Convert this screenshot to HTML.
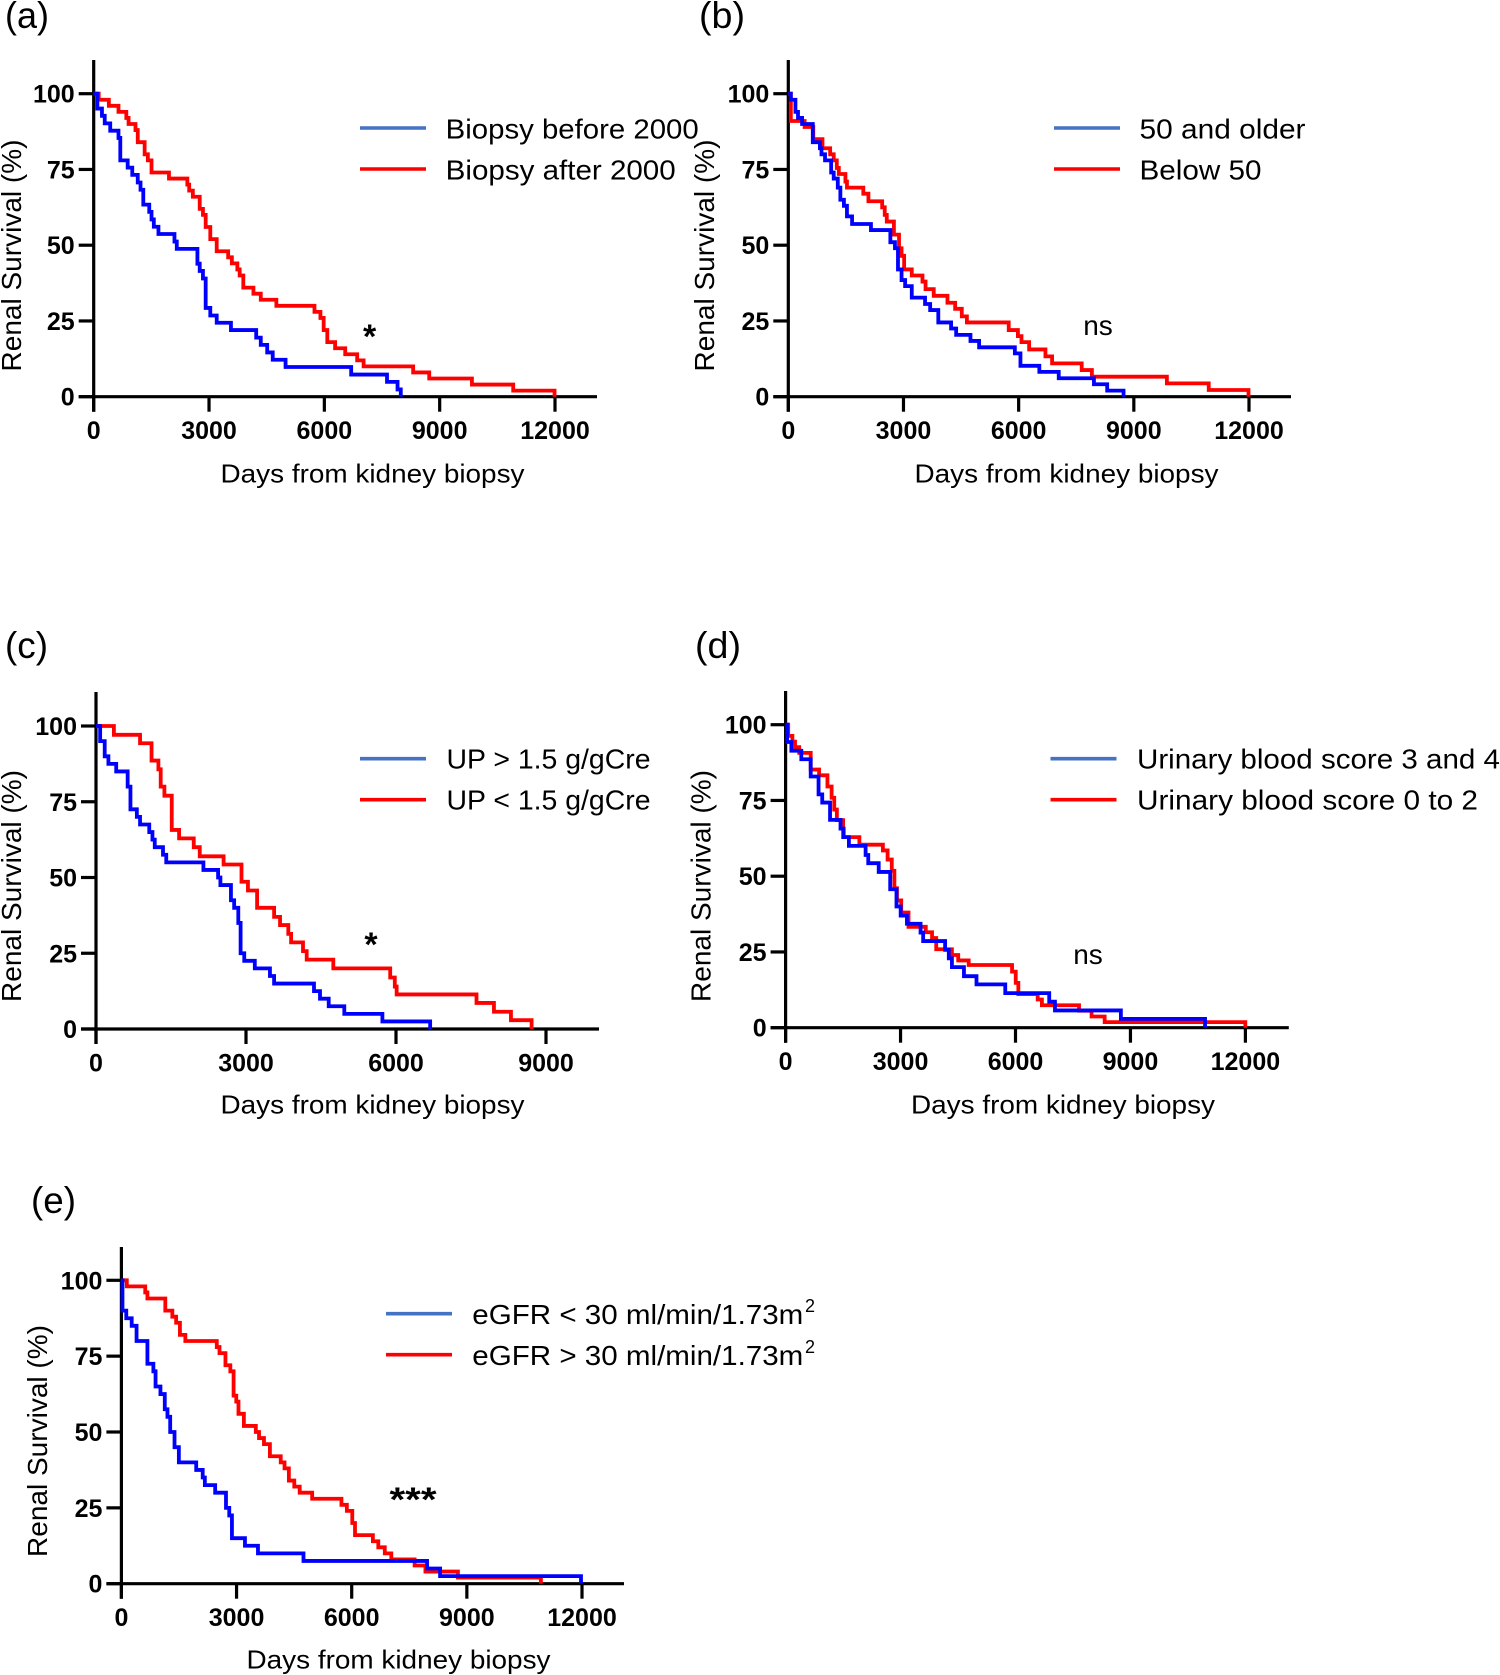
<!DOCTYPE html>
<html lang="en">
<head>
<meta charset="utf-8">
<title>Renal survival Kaplan-Meier curves</title>
<style>
html,body{margin:0;padding:0;background:#fff;}
svg{display:block;}
text{font-family:"Liberation Sans",sans-serif;fill:#000;}
.panel-label{font-size:37px;}
.legend-text{font-size:28px;}
.x-title{font-size:26px;text-anchor:middle;}
.y-title{font-size:28px;text-anchor:middle;}
.tick{font-size:25px;font-weight:bold;}
.note{font-size:28px;text-anchor:middle;}
.star{font-size:34px;font-weight:bold;text-anchor:middle;}
</style>
</head>
<body>
<svg xmlns="http://www.w3.org/2000/svg" width="1500" height="1675" viewBox="0 0 1500 1675">
<rect x="0" y="0" width="1500" height="1675" fill="#fff"/>

<g id="panel-a">
  <text class="panel-label" x="5" y="28" textLength="44" lengthAdjust="spacingAndGlyphs">(a)</text>
  <text class="y-title" transform="translate(21,255.5) rotate(-90)" textLength="232" lengthAdjust="spacingAndGlyphs">Renal Survival (%)</text>
  <text class="x-title" x="372.5" y="482.5" textLength="304" lengthAdjust="spacingAndGlyphs">Days from kidney biopsy</text>
  <line x1="360" y1="128" x2="426" y2="128" stroke="#4472C4" stroke-width="3.6"/>
  <line x1="360" y1="169" x2="426" y2="169" stroke="#ff0000" stroke-width="3.6"/>
  <text class="legend-text" x="445.7" y="138.5" textLength="253" lengthAdjust="spacingAndGlyphs">Biopsy before 2000</text>
  <text class="legend-text" x="445.7" y="179.5" textLength="230" lengthAdjust="spacingAndGlyphs">Biopsy after 2000</text>
  <text class="star" x="369.6" y="348">*</text>
</g>

<g id="panel-b">
  <text class="panel-label" x="699" y="28" textLength="46" lengthAdjust="spacingAndGlyphs">(b)</text>
  <text class="y-title" transform="translate(714,255.5) rotate(-90)" textLength="232" lengthAdjust="spacingAndGlyphs">Renal Survival (%)</text>
  <text class="x-title" x="1066.5" y="482.5" textLength="304" lengthAdjust="spacingAndGlyphs">Days from kidney biopsy</text>
  <line x1="1054" y1="128" x2="1120" y2="128" stroke="#4472C4" stroke-width="3.6"/>
  <line x1="1054" y1="169" x2="1120" y2="169" stroke="#ff0000" stroke-width="3.6"/>
  <text class="legend-text" x="1139.5" y="138.5" textLength="166" lengthAdjust="spacingAndGlyphs">50 and older</text>
  <text class="legend-text" x="1139.5" y="179.5" textLength="122" lengthAdjust="spacingAndGlyphs">Below 50</text>
  <text class="note" x="1098" y="335">ns</text>
</g>

<g id="panel-c">
  <text class="panel-label" x="5" y="658" textLength="43" lengthAdjust="spacingAndGlyphs">(c)</text>
  <text class="y-title" transform="translate(21,886) rotate(-90)" textLength="232" lengthAdjust="spacingAndGlyphs">Renal Survival (%)</text>
  <text class="x-title" x="372.5" y="1113.5" textLength="304" lengthAdjust="spacingAndGlyphs">Days from kidney biopsy</text>
  <line x1="360" y1="758.7" x2="426" y2="758.7" stroke="#4472C4" stroke-width="3.6"/>
  <line x1="360" y1="799.7" x2="426" y2="799.7" stroke="#ff0000" stroke-width="3.6"/>
  <text class="legend-text" x="446.5" y="768.5" textLength="204" lengthAdjust="spacingAndGlyphs">UP &gt; 1.5 g/gCre</text>
  <text class="legend-text" x="446.5" y="809.5" textLength="204" lengthAdjust="spacingAndGlyphs">UP &lt; 1.5 g/gCre</text>
  <text class="star" x="371" y="956">*</text>
</g>

<g id="panel-d">
  <text class="panel-label" x="695" y="658" textLength="46" lengthAdjust="spacingAndGlyphs">(d)</text>
  <text class="y-title" transform="translate(710.5,886) rotate(-90)" textLength="232" lengthAdjust="spacingAndGlyphs">Renal Survival (%)</text>
  <text class="x-title" x="1063" y="1113.5" textLength="304" lengthAdjust="spacingAndGlyphs">Days from kidney biopsy</text>
  <line x1="1050.5" y1="758.7" x2="1116.5" y2="758.7" stroke="#4472C4" stroke-width="3.6"/>
  <line x1="1050.5" y1="799.7" x2="1116.5" y2="799.7" stroke="#ff0000" stroke-width="3.6"/>
  <text class="legend-text" x="1137" y="768.5" textLength="363" lengthAdjust="spacingAndGlyphs">Urinary blood score 3 and 4</text>
  <text class="legend-text" x="1137" y="809.5" textLength="341" lengthAdjust="spacingAndGlyphs">Urinary blood score 0 to 2</text>
  <text class="note" x="1088" y="964">ns</text>
</g>

<g id="panel-e">
  <text class="panel-label" x="31" y="1213" textLength="45" lengthAdjust="spacingAndGlyphs">(e)</text>
  <text class="y-title" transform="translate(47,1441) rotate(-90)" textLength="232" lengthAdjust="spacingAndGlyphs">Renal Survival (%)</text>
  <text class="x-title" x="398.5" y="1668.5" textLength="304" lengthAdjust="spacingAndGlyphs">Days from kidney biopsy</text>
  <line x1="386" y1="1313.7" x2="452" y2="1313.7" stroke="#4472C4" stroke-width="3.6"/>
  <line x1="386" y1="1354.7" x2="452" y2="1354.7" stroke="#ff0000" stroke-width="3.6"/>
  <text class="legend-text" x="472.3" y="1324" textLength="331" lengthAdjust="spacingAndGlyphs">eGFR &lt; 30 ml/min/1.73m</text>
  <text x="805" y="1312" font-size="18">2</text>
  <text class="legend-text" x="472.3" y="1365" textLength="331" lengthAdjust="spacingAndGlyphs">eGFR &gt; 30 ml/min/1.73m</text>
  <text x="805" y="1353" font-size="18">2</text>
  <text class="star" x="413" y="1511" textLength="47" lengthAdjust="spacingAndGlyphs">***</text>
</g>
</svg>

<script>
// Tick labels
var yTicks = [0, 25, 50, 75, 100];
var xTicksLong = [0, 3000, 6000, 9000, 12000];
var xTicksShort = [0, 3000, 6000, 9000];

// Panel (a)
var aBlueDays = [96,215,287,430,645,692,884,1003,1146,1218,1290,1445,1504,1564,1684,2101,2161,2698,2758,2842,2913,3033,3200,3570,4227,4346,4513,4657,4991,6698,7630,7904,7988];
var aBlueSurvival = [95.1,92.7,90.2,87.8,85.4,78,75.6,73.2,70.7,68.3,63.4,61,58.5,56.1,53.7,51.2,48.8,43.9,41.5,39,29.3,26.8,24.4,22,19.5,17.1,14.6,12.2,9.8,7.3,4.9,2.4,0];
var aRedDays = [131,394,645,848,907,1087,1146,1325,1409,1504,1958,2436,2484,2579,2758,2842,2913,3033,3200,3498,3594,3737,3797,3892,4155,4346,4752,5743,5898,5982,6077,6280,6543,6854,7021,8310,8728,9839,10913,11988];
var aRedSurvival = [98,96,94,92,90,88,84,80,78,74,72,70,68,66,62,60,56,52,48,46,44,42,40,36,34,32,30,28,26,22,18,16,14,12,10,8,6,4,2,0];

// Panel (b)
var bBlueDays = [66,186,253,359,638,824,864,957,1116,1183,1289,1356,1449,1528,1661,2153,2658,2778,2857,2950,3043,3216,3562,3695,3907,4240,4372,4745,4970,5901,6047,6539,7044,7961,8306,8732];
var bBlueSurvival = [98,94,92,90,84,82,80,78,74,72,69,65,63,59.5,57,55,51,49,42,38.5,36.5,32.7,30.6,28.6,24.5,22.5,20.4,18.4,16.3,14.3,10.2,8.2,6.1,4.1,2,0];
var bRedDays = [66,425,651,890,1090,1183,1263,1316,1488,1528,1954,2087,2445,2512,2565,2751,2884,2950,3017,3216,3495,3575,3788,4146,4346,4519,4652,5741,5981,6074,6273,6698,6871,7642,7908,9861,10951,11987];
var bRedSurvival = [91,89,85,82,80,78,75.5,73.5,71,69,67,64.5,62.5,60,57.8,53.5,49,46.5,42,40,38,35.5,33.3,31,29,26.5,24.5,22,20,18,15.6,13.3,11,8.8,6.6,4.4,2.2,0];

// Panel (c)
var cBlueDays = [83,174,248,404,633,689,817,881,1065,1129,1175,1340,1405,2148,2442,2488,2699,2763,2846,2892,2965,3176,3479,3562,4360,4480,4654,4966,5728,6683];
var cBlueSurvival = [95,90,87.5,85,80,72.5,70,67.5,65,62.5,60,57.5,55,52.5,50,47.5,42.5,40,35,25,22.5,20,17.5,15,12.5,10,7.5,5,2.5,0];
var cRedDays = [358,881,1111,1248,1294,1368,1515,1662,1955,2075,2552,2910,3039,3222,3562,3681,3846,3902,4140,4214,4746,5884,5976,6013,7610,7959,8299,8712];
var cRedSurvival = [97.1,94.3,88.6,85.7,80,77,65.7,62.9,60,57,54.3,48.6,45.7,40,37,34.3,31.4,28.6,25.7,22.9,20,17,14,11.4,8.6,5.7,2.9,0];

// Panel (d)
var dBlueDays = [41,150,410,655,860,956,1160,1433,1515,1652,2088,2157,2430,2730,2894,3003,3167,3522,3590,4163,4259,4341,4655,4982,5733,6880,7030,8750,10947];
var dBlueSurvival = [94.3,91.4,88.6,82.9,77,74.3,68.6,65.7,62.9,60,57,54.3,51.4,45.7,40,37,34.3,31.4,28.6,25.7,22.9,20,17,14.3,11.4,8.6,5.7,2.9,0];
var dRedDays = [68,177,246,355,655,874,1092,1201,1269,1338,1501,1925,2539,2662,2771,2839,2907,3017,3208,3658,3822,3931,4341,4505,4778,5910,6006,6074,6579,6689,7658,7985,8327,11998];
var dRedSurvival = [96.3,94.4,92.6,90.7,85.2,83.3,79.6,75.9,72,68.5,62.9,60.4,58.5,55.5,51.8,46,42,38,33.3,31.5,29.6,25.9,24,22.2,20.7,18.5,14.8,11.1,9.3,7.4,5.6,3.7,1.85,0];

// Panel (e)
var eBlueDays = [28,127,268,395,678,833,890,1017,1130,1200,1271,1384,1497,1949,2118,2174,2443,2725,2810,2880,3219,3558,4744,7964,8303,11974];
var eBlueSurvival = [90,87.5,85,80,72.5,70,65,62.5,57.5,55,50,45,40,37.5,35,32.5,30,25,22.5,15,12.5,10,7.5,5,2.5,0];
var eRedDays = [141,621,678,1144,1327,1426,1525,1666,2485,2556,2711,2838,2923,2993,3050,3191,3502,3586,3714,3869,4151,4250,4363,4504,4645,4970,5733,5874,6015,6086,6552,6693,6862,7032,7639,7921,8768,10929];
var eRedSurvival = [98,96,94,90,88,86,82,80,78,76,72,70,62,60,56,52,50,48,46,42,40,38,34,32,30,28,26,24,20,16,14,12,10,8,6,4,2,0];

var NS = 'http://www.w3.org/2000/svg';

function drawPanel(id, box, xTicks, blueDays, blueSurvival, redDays, redSurvival) {
  var g = document.getElementById(id);
  var xMax = xTicks[xTicks.length - 1];
  function xScale(d) { return box.left + d * (box.right - box.left) / xMax; }
  function yScale(v) { return box.bottom + v * (box.top - box.bottom) / 100; }

  var yAxis = document.createElementNS(NS, 'line');
  
  
  yAxis.setAttribute('x1', box.left);
  yAxis.setAttribute('x2', box.left);
  yAxis.setAttribute('y1', box.axisTop);
  yAxis.setAttribute('y2', box.bottom + 15);
  yAxis.setAttribute('stroke', '#000');
  yAxis.setAttribute('stroke-width', 3.2);
  g.appendChild(yAxis);

  var xAxis = document.createElementNS(NS, 'line');
  
  
  xAxis.setAttribute('x1', box.left - 15);
  xAxis.setAttribute('x2', box.axisEnd);
  xAxis.setAttribute('y1', box.bottom);
  xAxis.setAttribute('y2', box.bottom);
  xAxis.setAttribute('stroke', '#000');
  xAxis.setAttribute('stroke-width', 3.2);
  g.appendChild(xAxis);

  yTicks.forEach(function (v) {
    var tick = document.createElementNS(NS, 'line');
    
    
    tick.setAttribute('x1', box.left - 15);
    tick.setAttribute('x2', box.left);
    tick.setAttribute('y1', yScale(v));
    tick.setAttribute('y2', yScale(v));
    tick.setAttribute('stroke', '#000');
    tick.setAttribute('stroke-width', 3.2);
    g.appendChild(tick);

    var label = document.createElementNS(NS, 'text');
    
    
    label.setAttribute('class', 'tick');
    label.setAttribute('text-anchor', 'end');
    label.setAttribute('x', box.left - 19);
    label.setAttribute('y', yScale(v) + 9);
    label.textContent = String(v);
    g.appendChild(label);
  });

  xTicks.forEach(function (d) {
    var tick = document.createElementNS(NS, 'line');
    
    
    tick.setAttribute('x1', xScale(d));
    tick.setAttribute('x2', xScale(d));
    tick.setAttribute('y1', box.bottom);
    tick.setAttribute('y2', box.bottom + 15);
    tick.setAttribute('stroke', '#000');
    tick.setAttribute('stroke-width', 3.2);
    g.appendChild(tick);

    var label = document.createElementNS(NS, 'text');
    
    
    label.setAttribute('class', 'tick');
    label.setAttribute('text-anchor', 'middle');
    label.setAttribute('x', xScale(d));
    label.setAttribute('y', box.bottom + 42.5);
    label.textContent = String(d);
    g.appendChild(label);
  });

  function stepPath(days, survival) {
    var p = 'M' + xScale(0) + ' ' + yScale(100);
    for (var i = 0; i < days.length; i++) {
      p += ' H' + xScale(days[i]).toFixed(2) + ' V' + yScale(survival[i]).toFixed(2);
    }
    return p;
  }

  var redLine = document.createElementNS(NS, 'path');
  
  
  redLine.setAttribute('d', stepPath(redDays, redSurvival));
  redLine.setAttribute('fill', 'none');
  redLine.setAttribute('stroke', '#ff0000');
  redLine.setAttribute('stroke-width', 3.8);
  g.appendChild(redLine);

  var blueLine = document.createElementNS(NS, 'path');
  
  
  blueLine.setAttribute('d', stepPath(blueDays, blueSurvival));
  blueLine.setAttribute('fill', 'none');
  blueLine.setAttribute('stroke', '#0000ff');
  blueLine.setAttribute('stroke-width', 3.8);
  g.appendChild(blueLine);
}

drawPanel('panel-a', {left: 93.7, right: 555, top: 93.7, bottom: 396.7, axisTop: 60, axisEnd: 597}, xTicksLong, aBlueDays, aBlueSurvival, aRedDays, aRedSurvival);
drawPanel('panel-b', {left: 788.3, right: 1249, top: 93.7, bottom: 396.7, axisTop: 60, axisEnd: 1291}, xTicksLong, bBlueDays, bBlueSurvival, bRedDays, bRedSurvival);
drawPanel('panel-c', {left: 96, right: 546, top: 726, bottom: 1029, axisTop: 692, axisEnd: 599}, xTicksShort, cBlueDays, cBlueSurvival, cRedDays, cRedSurvival);
drawPanel('panel-d', {left: 785.6, right: 1245.4, top: 724.7, bottom: 1027.7, axisTop: 691, axisEnd: 1288.8}, xTicksLong, dBlueDays, dBlueSurvival, dRedDays, dRedSurvival);
drawPanel('panel-e', {left: 121.4, right: 582, top: 1280.3, bottom: 1583.7, axisTop: 1247, axisEnd: 624}, xTicksLong, eBlueDays, eBlueSurvival, eRedDays, eRedSurvival);
</script>
</body>
</html>
